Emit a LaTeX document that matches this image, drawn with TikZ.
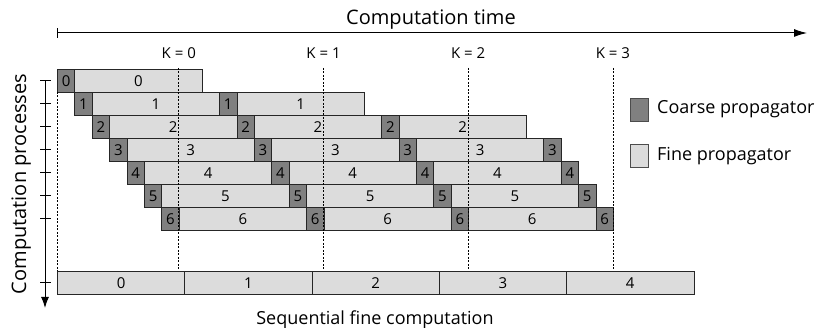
\documentclass[tikz,border=0pt]{standalone}
\usepackage{fontspec}
\setmainfont{Open Sans}
\usetikzlibrary{arrows.meta}
\definecolor{coarsec}{HTML}{808080}
\definecolor{finec}{HTML}{DCDCDC}
\begin{document}
\begin{tikzpicture}[x=1pt,y=-1pt,
  box/.style={draw=black!85, line width=0.8pt, inner sep=0pt, anchor=north west,
    minimum height=23pt, font=\fontsize{15}{15}\selectfont},
  coarse/.style={box, fill=coarsec, minimum width=17.4pt},
  fine/.style={box, fill=finec, minimum width=127.3pt},
  kline/.style={line width=0.8pt, dash pattern=on 2pt off 1.5pt},
  axis/.style={line width=1pt},
  klabel/.style={font=\fontsize{15}{15}\selectfont, inner sep=0pt, anchor=base},
  biglabel/.style={font=\fontsize{20}{20}\selectfont, inner sep=0pt, anchor=base},
  leglabel/.style={font=\fontsize{18}{18}\selectfont, inner sep=0pt, anchor=base west},
  legbox/.style={draw=black!70, line width=0.8pt, inner sep=0pt, anchor=north west,
    minimum width=17.6pt, minimum height=23pt}]
\useasboundingbox (0,0) rectangle (816,328);
% process blocks
\foreach \i in {0,...,6} {
  \pgfmathtruncatemacro\n{min(\i,2)}
  \foreach \k in {0,...,\n} {
    \node[coarse] (c\i-\k) at ({57+17.4*\i+144.7*\k},{69+23*\i}) {\i};
    \node[fine] (f\i-\k) at ({57+17.4*(\i+1)+144.7*\k},{69+23*\i}) {\i};
  }
}
\foreach \i in {3,...,6} {
  \node[coarse] (c\i-3) at ({57+17.4*\i+144.7*3},{69+23*\i}) {\i};
}
% sequential bar
\foreach \j in {0,...,4} {
  \node[fine] (s\j) at ({57+127.3*\j},271) {\j};
}
% iteration lines and labels
\foreach \k in {0,...,3} {
  \coordinate (kt\k) at ({178.8+144.7*\k},68);
  \coordinate (kb\k) at ({178.8+144.7*\k},271);
  \draw[kline] (kt\k) -- (kb\k);
  \node[klabel] (K\k) at ({178.8+144.7*\k},59) {K = \k};
}
\coordinate (lt) at (57,92);
\coordinate (lb) at (57,271);
\draw[kline] (lt) -- (lb);
% time axis
\coordinate (t0) at (57,33);
\coordinate (t1) at (807,33);
\draw[axis,{Bar[width=10pt]}-{Latex[length=13pt,width=8pt]}] (t0) -- (t1);
\node[biglabel] (title) at (431,25) {Computation time};
% process axis
\coordinate (p0) at (45,80.5);
\coordinate (p1) at (45,308);
\draw[axis,-{Latex[length=11pt,width=8pt]}] (p0) -- (p1);
\foreach \y in {80.5,103.5,126.5,149.5,172.5,195.5,218.5,282.5} {
  \coordinate (tl) at (40,\y);
  \coordinate (tr) at (51,\y);
  \draw[axis] (tl) -- (tr);
}
\node[biglabel, rotate=90] (plabel) at (26,184) {Computation processes};
\node[leglabel, anchor=base] (slabel) at (375,325) {Sequential fine computation};
% legend
\node[legbox, fill=coarsec] (lc) at (630,98) {};
\node[leglabel] (lct) at (657,113.5) {Coarse propagator};
\node[legbox, fill=finec] (lf) at (630,144) {};
\node[leglabel] (lft) at (657,160.5) {Fine propagator};
\end{tikzpicture}
\end{document}
